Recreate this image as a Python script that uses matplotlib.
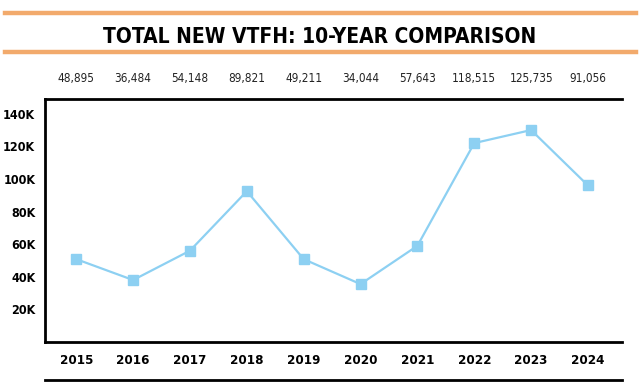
import matplotlib.pyplot as plt
from matplotlib.lines import Line2D
from matplotlib.ticker import FuncFormatter

years = ['2015', '2016', '2017', '2018', '2019', '2020', '2021', '2022', '2023', '2024']
value_labels = ['48,895', '36,484', '54,148', '89,821', '49,211',
                '34,044', '57,643', '118,515', '125,735', '91,056']
# plotted positions (thousands)
plotted_k = [50.8, 38.0, 56.0, 92.5, 50.8, 35.5, 59.0, 122.0, 130.0, 96.0]
y_ticks = [20, 40, 60, 80, 100, 120, 140]

plt.rcParams['font.family'] = ['DejaVu Sans']
plt.rcParams['font.stretch'] = 'condensed'

fig = plt.figure(figsize=(6.4, 3.87), dpi=100)
ax = fig.add_axes([0.0703, 0.1163, 0.9017, 0.6277])

xs = list(range(len(years)))
ax.plot(xs, plotted_k, color='#8dd0f2', lw=1.6, marker='s', ms=6.5,
        markeredgecolor='#8dd0f2')

ax.set_xlim(-0.55, 9.6)
ax.set_ylim(0, 149)
ax.set_xticks(xs)
ax.set_xticklabels(years, fontsize=9.5, fontweight='bold')
ax.set_yticks(y_ticks)
ax.yaxis.set_major_formatter(FuncFormatter(lambda v, p: f'{int(v)}K'))
for t in ax.get_yticklabels():
    t.set_fontweight('bold')
    t.set_fontsize(9)
ax.tick_params(axis='both', length=0)
ax.tick_params(axis='y', pad=7)
ax.tick_params(axis='x', pad=9)

for side in ['left', 'bottom', 'top']:
    ax.spines[side].set_linewidth(2)
    ax.spines[side].set_color('black')
ax.spines['right'].set_visible(False)

# value labels above the plot
for x, lab in zip(xs, value_labels):
    ax.text(x, 1.086, lab, transform=ax.get_xaxis_transform(),
            ha='center', va='center', fontsize=8.5, color='#222222')

# title with orange rules
fig.text(0.5, 0.905, 'TOTAL NEW VTFH: 10-YEAR COMPARISON', ha='center', va='center',
         fontsize=15, fontweight='bold', color='black')
fig.add_artist(Line2D([0.008, 0.994], [0.966, 0.966], color='#f2aa6c', lw=3.2))
fig.add_artist(Line2D([0.008, 0.994], [0.866, 0.866], color='#f2aa6c', lw=3.2))

# bottom rule under the year labels
fig.add_artist(Line2D([0.0703, 0.972], [0.018, 0.018], color='black', lw=2))

fig.savefig('out.png', dpi=100)
